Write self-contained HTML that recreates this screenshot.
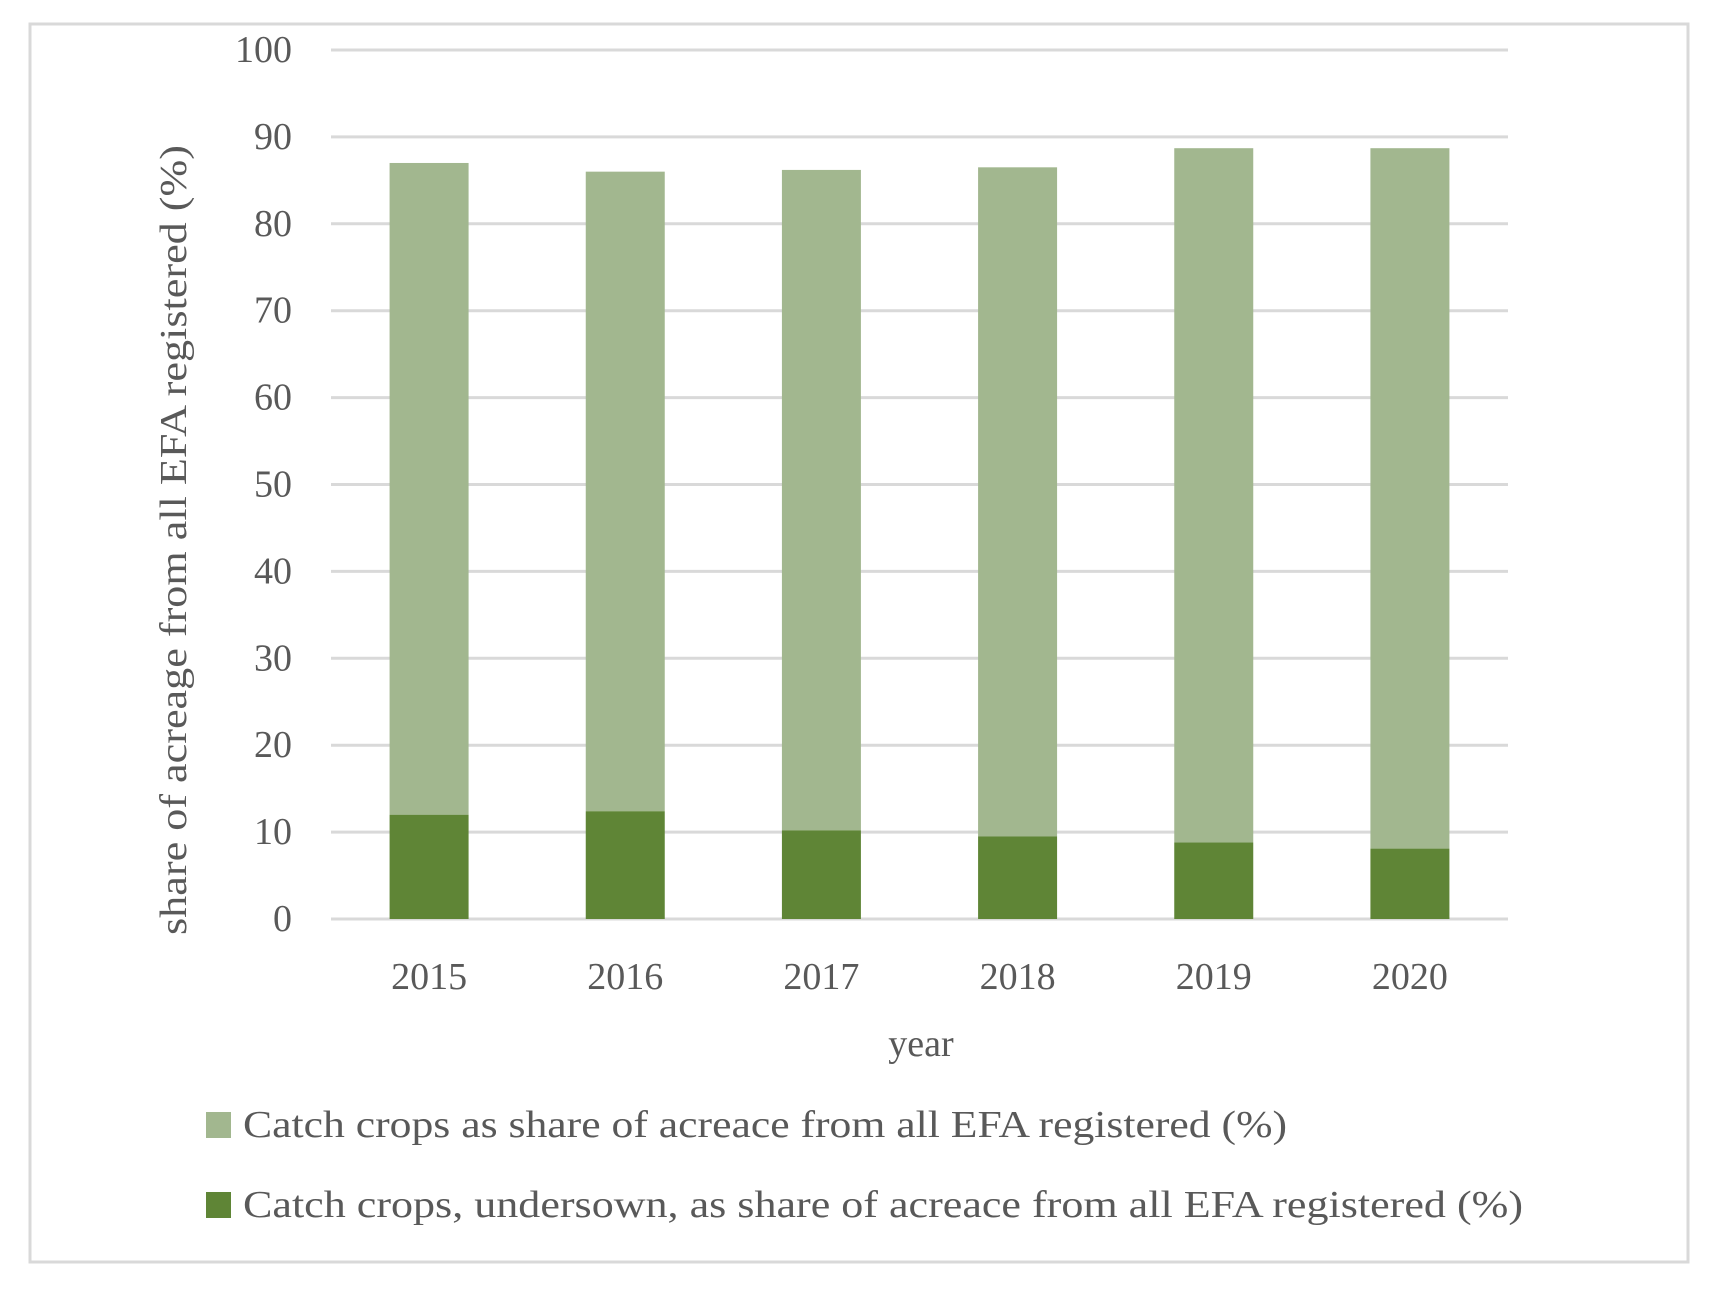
<!DOCTYPE html>
<html><head><meta charset="utf-8"><style>
html,body{margin:0;padding:0;background:#fff;}
svg{display:block;}
text{font-family:"Liberation Serif",serif;fill:#595959;}
</style></head><body>
<svg id="chart" width="1720" height="1292" viewBox="0 0 1720 1292" xmlns="http://www.w3.org/2000/svg">
<rect x="30" y="24" width="1658" height="1238" fill="#fff" stroke="#d9d9d9" stroke-width="3"/>
<g id="grid"></g><g id="bars"></g><g id="xlabels"></g>
<text transform="translate(186,540) rotate(-90)" text-anchor="middle" font-size="38" textLength="790" lengthAdjust="spacingAndGlyphs">share of acreage from all EFA registered (%)</text>
<text x="921" y="1056" text-anchor="middle" font-size="38">year</text>
<rect x="206" y="1112" width="25" height="26" fill="#a2b78f"/>
<text x="243" y="1137" font-size="38" textLength="1044" lengthAdjust="spacingAndGlyphs">Catch crops as share of acreace from all EFA registered (%)</text>
<rect x="206" y="1192" width="25" height="26" fill="#5f8536"/>
<text x="243" y="1217" font-size="38" textLength="1280" lengthAdjust="spacingAndGlyphs">Catch crops, undersown, as share of acreace from all EFA registered (%)</text>
</svg>
<script>
const categories=["2015","2016","2017","2018","2019","2020"];
const totalValues=[87,86,86.2,86.5,88.7,88.7];
const undersownValues=[12,12.4,10.2,9.5,8.8,8.1];
const yTicks=[0,10,20,30,40,50,60,70,80,90,100];
const NS="http://www.w3.org/2000/svg";
const x0=331,x1=1508,yTop=50,yBot=919;
const band=(x1-x0)/categories.length, bw=79;
function y(v){return yBot-(v/100)*(yBot-yTop);}
function xc(i){return x0+band*(i+0.5);}
function mk(tag,attrs,parent){const e=document.createElementNS(NS,tag);for(const k in attrs)e.setAttribute(k,attrs[k]);parent.appendChild(e);return e;}
const grid=document.getElementById('grid'),bars=document.getElementById('bars'),xl=document.getElementById('xlabels');
yTicks.forEach(t=>{
  const l=mk('line',{x1:x0,x2:x1,y1:y(t),y2:y(t),stroke:'#d9d9d9','stroke-width':3},grid);
  
  
  const tx=mk('text',{x:292,y:y(t)+12,'text-anchor':'end','font-size':38},grid);
  tx.textContent=t;
  
  
});
categories.forEach((c,i)=>{
  const cx=xc(i);
  const top=mk('rect',{x:cx-bw/2,y:y(totalValues[i]),width:bw,height:y(undersownValues[i])-y(totalValues[i]),fill:'#a2b78f'},bars);
  
  
  const bot=mk('rect',{x:cx-bw/2,y:y(undersownValues[i]),width:bw,height:yBot-y(undersownValues[i]),fill:'#5f8536'},bars);
  
  
  const t=mk('text',{x:cx,y:989,'text-anchor':'middle','font-size':38},xl);
  t.textContent=c;
  
  
});
</script>
</body></html>
